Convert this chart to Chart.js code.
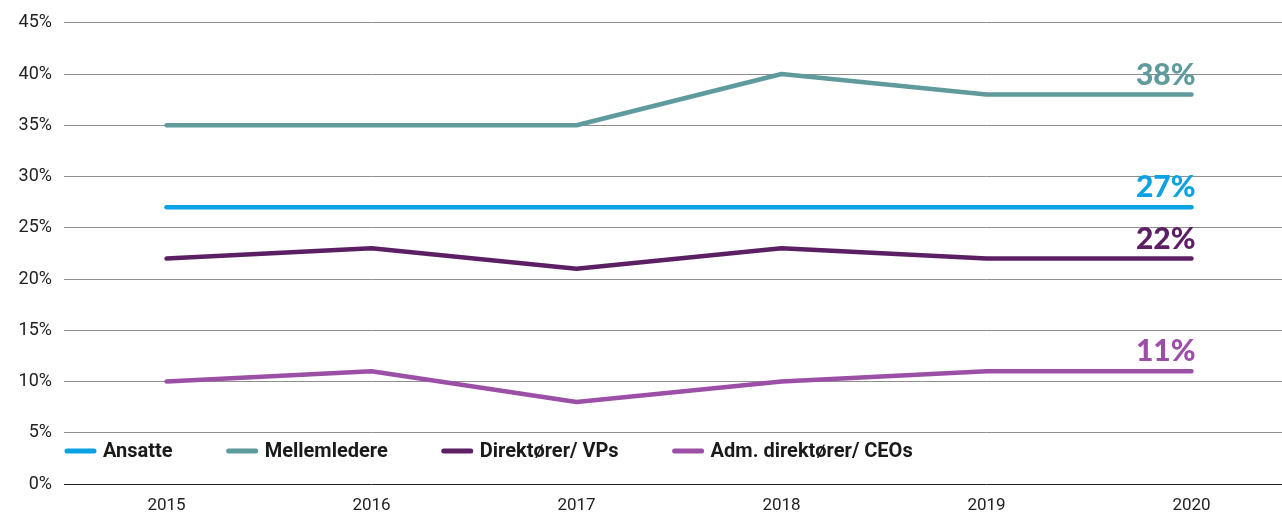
<!DOCTYPE html>
<html>
<head>
<meta charset="utf-8">
<script src="https://cdn.jsdelivr.net/npm/chart.js@4"></script>
<style>
  body { margin: 0; overflow: hidden; background: #fff; }
  #wrap { width: 1294px; height: 515px; position: relative; }
</style>
</head>
<body>
<div id="wrap"><canvas id="chart"></canvas></div>
<script>
// data
var years = ["2015", "2016", "2017", "2018", "2019", "2020"];
var ansatte = [27, 27, 27, 27, 27, 27];
var mellemledere = [35, 35, 35, 40, 38, 38];
var direktorer = [22, 23, 21, 23, 22, 22];
var ceos = [10, 11, 8, 10, 11, 11];
var seriesNames = ["Ansatte", "Mellemledere", "Direktører/ VPs", "Adm. direktører/ CEOs"];
var seriesColors = ["#0aa2e2", "#5f9a9c", "#5d1f64", "#9b4fa6"];

function makeSet(i, values) {
    return {
        label: seriesNames[i],
        data: values,
        borderColor: seriesColors[i],
        backgroundColor: seriesColors[i],
        borderWidth: 4.5,
        borderCapStyle: "round",
        borderJoinStyle: "round",
        pointRadius: 0,
        tension: 0
    };
}

// end-of-line value labels
var endLabels = {
    id: "endLabels",
    afterDatasetsDraw: function (chart) {
        var ctx = chart.ctx;
        ctx.save();
        ctx.font = "900 30px Lato";
        ctx.textAlign = "right";
        ctx.textBaseline = "alphabetic";
        chart.data.datasets.forEach(function (ds, i) {
            var pts = chart.getDatasetMeta(i).data;
            var last = pts[pts.length - 1];
            ctx.fillStyle = ds.borderColor;
            ctx.fillText(ds.data[ds.data.length - 1] + "%", last.x + 4, last.y - 10);
        });
        ctx.restore();
    }
};

// legend drawn inside the plot, just above the 0 line
var innerLegend = {
    id: "innerLegend",
    afterDraw: function (chart) {
        var ctx = chart.ctx;
        var x = chart.chartArea.left + 3;
        var y = 451;
        ctx.save();
        ctx.font = "bold 20px Roboto";
        ctx.textBaseline = "middle";
        chart.data.datasets.forEach(function (ds) {
            ctx.strokeStyle = ds.borderColor;
            ctx.lineWidth = 5;
            ctx.lineCap = "round";
            ctx.beginPath();
            ctx.moveTo(x, y);
            ctx.lineTo(x + 27, y);
            ctx.stroke();
            ctx.fillStyle = "#1a1a1a";
            ctx.fillText(ds.label, x + 36, y + 1);
            x += 36 + ctx.measureText(ds.label).width + 56;
        });
        ctx.restore();
    }
};

function draw() {
    new Chart(document.getElementById("chart"), {
        type: "line",
        data: {
            labels: years,
            datasets: [
                makeSet(0, ansatte),
                makeSet(1, mellemledere),
                makeSet(2, direktorer),
                makeSet(3, ceos)
            ]
        },
        options: {
            responsive: true,
            maintainAspectRatio: false,
            animation: false,
            layout: { padding: { top: 10, left: 0, right: 0, bottom: 0 } },
            plugins: {
                legend: { display: false },
                tooltip: { enabled: false }
            },
            scales: {
                x: {
                    offset: true,
                    grid: { display: false },
                    border: { display: false },
                    ticks: { color: "#222", font: { family: "Roboto", size: 17 }, padding: 4 },
                    afterFit: function (s) { s.height = 31; }
                },
                y: {
                    min: 0,
                    max: 45,
                    ticks: {
                        stepSize: 5,
                        color: "#222",
                        font: { family: "Roboto", size: 18 },
                        padding: 12,
                        callback: function (v) { return v + "%"; }
                    },
                    grid: {
                        drawTicks: false,
                        color: function (c) { return c.tick && c.tick.value === 0 ? "#222" : "#8f8f8f"; },
                        lineWidth: 1
                    },
                    border: { display: false },
                    afterFit: function (s) { s.width = 64; }
                }
            }
        },
        plugins: [endLabels, innerLegend]
    });
}

Promise.all([
    document.fonts.load("900 30px Lato"),
    document.fonts.load("bold 30px Lato"),
    document.fonts.load("bold 20px Roboto"),
    document.fonts.load("17px Roboto")
]).then(draw, draw);
</script>
</body>
</html>
